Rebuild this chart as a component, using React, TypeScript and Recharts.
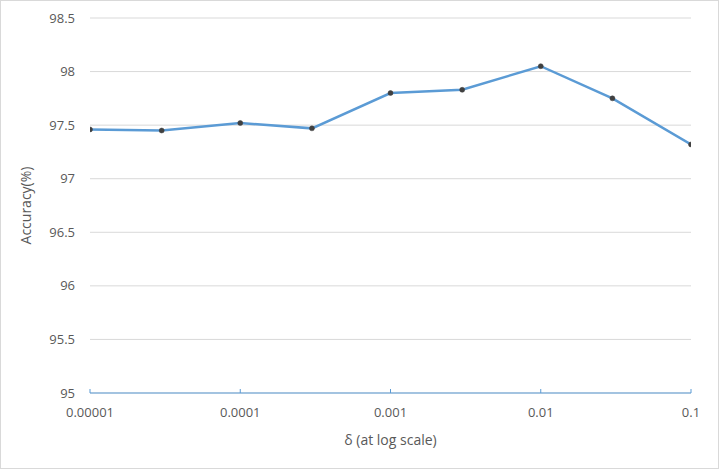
import { LineChart, Line, XAxis, YAxis, CartesianGrid, Label } from 'recharts'

const deltas = [0.00001, 0.00003, 0.0001, 0.0003, 0.001, 0.003, 0.01, 0.03, 0.1]
const accuracy = [97.46, 97.45, 97.52, 97.47, 97.8, 97.83, 98.05, 97.75, 97.32]

const xTicks = [0.00001, 0.0001, 0.001, 0.01, 0.1]
const xTickLabels = ['0.00001', '0.0001', '0.001', '0.01', '0.1']
const yTicks = [95, 95.5, 96, 96.5, 97, 97.5, 98, 98.5]

const data = deltas.map((d, i) => ({ delta: d, acc: accuracy[i] }))

const font = '"Open Sans", sans-serif'
const textColor = '#595959'

export default function App() {
  return (
    <div style={{ position: 'absolute', left: 0, top: 0, width: 719, height: 469, background: '#fff' }}>
      <LineChart
        width={719}
        height={469}
        data={data}
        margin={{ top: 18, right: 28, bottom: 24, left: 0 }}
        style={{ fontFamily: font }}
      >
        <CartesianGrid vertical={false} stroke="#d9d9d9" />
        <XAxis
          dataKey="delta"
          type="number"
          scale="log"
          domain={[0.00001, 0.1]}
          ticks={xTicks}
          tickFormatter={(v: number) => xTickLabels[xTicks.indexOf(v)] ?? String(v)}
          allowDataOverflow
          height={52}
          stroke="#5b9bd5"
          tickSize={-4}
          tickMargin={19}
          tick={{ fill: textColor, fontSize: 13 }}
        >
          <Label value="δ (at log scale)" position="insideBottom" offset={0} fill={textColor} fontSize={14} />
        </XAxis>
        <YAxis
          type="number"
          domain={[95, 98.5]}
          ticks={yTicks}
          width={90}
          axisLine={false}
          tickLine={false}
          tickMargin={9}
          tick={{ fill: textColor, fontSize: 13 }}
        >
          <Label
            value="Accuracy(%)"
            angle={-90}
            position="insideLeft"
            offset={26}
            style={{ textAnchor: 'middle' }}
            fill={textColor}
            fontSize={14}
          />
        </YAxis>
        <Line
          dataKey="acc"
          stroke="#5b9bd5"
          strokeWidth={2.5}
          dot={{ r: 2.5, fill: '#404040', stroke: '#404040', strokeWidth: 0.5 }}
          isAnimationActive={false}
        />
      </LineChart>
      <div
        style={{
          position: 'absolute',
          left: 0,
          top: 0,
          width: 719,
          height: 469,
          boxSizing: 'border-box',
          border: '1px solid #d9d9d9',
          pointerEvents: 'none',
        }}
      />
    </div>
  )
}
